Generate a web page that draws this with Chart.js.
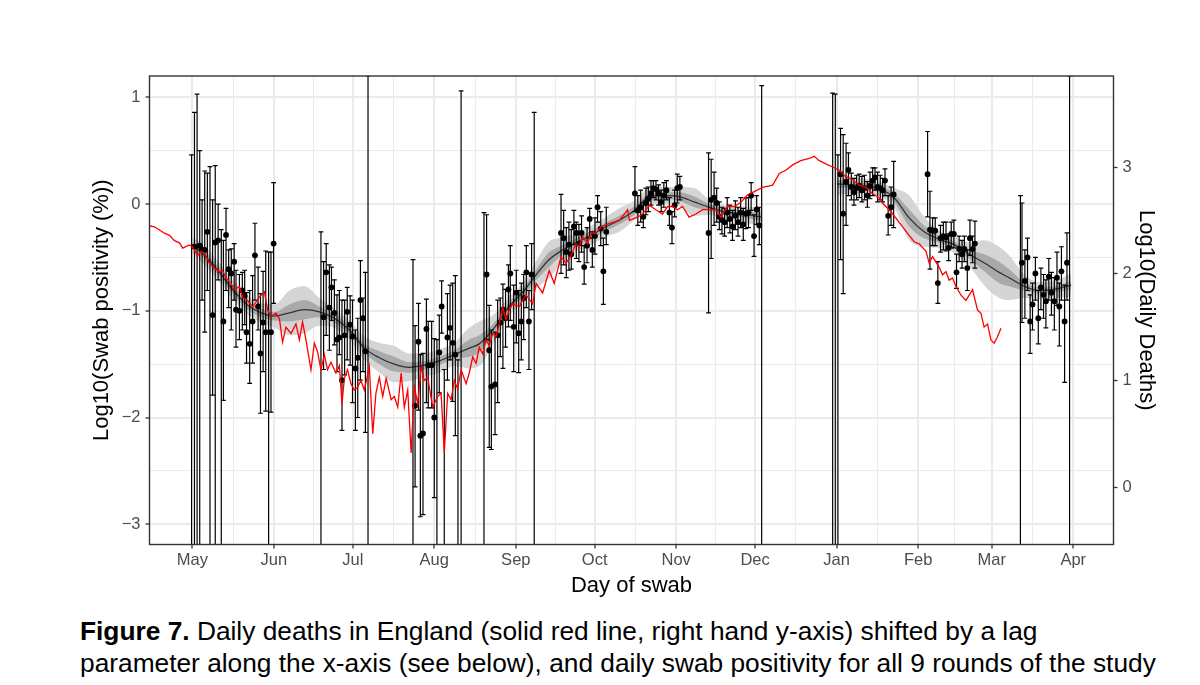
<!DOCTYPE html>
<html><head><meta charset="utf-8">
<script src="https://cdn.jsdelivr.net/npm/chart.js@4.4.0/dist/chart.umd.min.js"></script>
<style>
html,body{margin:0;padding:0;background:#fff;}
#wrap{position:relative;width:1200px;height:685px;overflow:hidden;background:#fff;}
#c{position:absolute;left:0;top:0;}
#cap{position:absolute;left:80px;top:615px;font-family:"Liberation Sans",Arial,sans-serif;font-size:26.3px;line-height:32px;color:#000;white-space:nowrap;}
</style></head><body>
<div id="wrap"><canvas id="c" width="1200" height="600"></canvas>
<div id="cap"><b>Figure 7.</b> Daily deaths in England (solid red line, right hand y-axis) shifted by a lag<br>parameter along the x-axis (see below), and daily swab positivity for all 9 rounds of the study</div></div>
<script>
// ---------- axis labels ----------
const monthDays   = [0, 31, 61, 92, 123, 153, 184, 214, 245, 276, 304, 335]; // days since 1 May 2020
const monthLabels = ['May','Jun','Jul','Aug','Sep','Oct','Nov','Dec','Jan','Feb','Mar','Apr'];
const leftTicks   = [-3, -2, -1, 0, 1];
const rightTicks  = [0, 1, 2, 3];

// ---------- daily swab positivity (log10 %), with interval ----------
const swabDay = [
 -0.3,0.8,1.8,2.8,3.7,4.7,5.7,6.7,7.7,8.7,9.8,11.0,11.8,12.8,13.8,14.8,15.9,16.6,17.9,19.0,19.9,20.6,21.8,22.9,23.8,25.0,25.9,26.9,27.9,29.0,29.9,30.9,
 48.9,49.9,50.9,52.1,52.9,54.0,55.0,55.9,56.9,57.9,58.9,60.0,60.9,62.0,62.9,63.9,64.9,65.8,66.8,
 83.9,84.7,86.0,86.7,87.7,89.0,89.7,91.0,92.0,93.0,93.9,94.8,95.8,97.0,98.0,99.0,100.0,101.0,102.2,
 110.9,111.9,112.9,113.7,115.1,116.1,117.1,118.1,119.1,120.2,120.9,122.2,123.2,124.1,125.1,126.0,127.0,128.0,129.0,130.0,
 140.2,141.2,142.2,143.2,144.1,145.1,146.0,147.0,148.0,149.0,150.1,151.1,152.1,153.1,154.1,155.3,156.3,157.4,
 168.3,169.4,170.5,171.5,172.5,173.4,174.4,175.3,176.3,177.3,178.3,179.3,180.3,181.4,182.4,183.4,184.4,185.4,
 196.3,197.3,198.4,199.4,200.4,201.4,202.4,203.4,204.4,205.4,206.5,207.5,208.5,209.5,210.5,211.5,212.5,213.6,214.6,215.6,216.5,
 243.5,244.5,245.5,246.5,247.5,248.6,249.5,250.6,251.6,252.6,253.6,254.6,255.6,256.7,257.7,258.7,259.6,260.6,261.6,262.5,263.4,264.6,265.7,266.7,
 279.6,280.5,281.5,282.5,283.5,284.5,285.6,286.6,287.6,288.6,289.6,290.6,291.6,292.7,293.6,294.7,295.7,296.7,297.6,
 314.9,315.5,316.6,317.6,318.6,319.5,320.6,321.7,322.7,323.7,324.6,325.7,326.7,327.8,328.8,329.7,330.5,331.7,332.6,333.6
];
const swabLogPos = [
 null,-0.40,null,-0.39,-0.43,-0.43,-0.26,null,-1.04,-0.36,-0.34,null,-1.10,-0.29,-0.61,-0.65,-0.54,-0.99,-1.00,-0.81,-0.86,-1.20,-1.31,-1.10,-0.48,-0.96,-1.40,-1.11,-1.20,null,-1.20,-0.37,
 null,-1.06,-0.64,-0.97,-0.78,-1.02,-1.27,-1.25,-1.65,-1.23,-1.01,-1.13,-1.24,-1.54,-1.44,-0.90,-1.07,-1.38,null,
 null,-1.89,-1.29,-2.17,-2.15,-1.17,-1.51,-1.51,-2.00,null,-1.39,-0.96,null,-1.25,-1.16,-1.30,-1.41,null,null,
 null,-0.66,-1.37,-1.71,-1.69,-1.23,-1.11,-0.99,-1.07,-0.80,-0.65,-1.15,-0.83,-1.21,-1.10,-0.88,-0.64,-1.10,-0.66,null,
 -0.27,-0.32,-0.45,-0.38,-0.47,-0.21,-0.27,-0.37,-0.27,-0.59,-0.39,-0.14,-0.43,-0.30,-0.03,-0.23,-0.63,-0.26,
 0.10,-0.06,-0.03,-0.12,0.01,0.05,0.10,0.15,0.14,0.10,0.02,0.08,0.13,-0.08,-0.22,-0.01,0.15,0.16,
 -0.27,0.04,0.06,0.01,-0.12,-0.15,-0.17,-0.08,-0.14,-0.21,-0.11,-0.17,-0.08,-0.19,-0.09,-0.08,0.08,-0.30,-0.05,-0.20,null,
 null,null,null,0.28,-0.09,0.21,0.32,0.16,0.11,0.15,0.17,0.13,0.15,0.08,0.17,0.22,0.25,0.16,0.15,0.13,0.22,-0.11,-0.03,0.09,
 0.28,-0.24,-0.25,-0.25,-0.74,-0.32,-0.30,-0.31,-0.41,-0.28,-0.28,-0.64,-0.42,-0.47,-0.42,-0.60,-0.32,-0.42,-0.37,
 null,-0.55,-0.72,-0.50,-1.10,-0.94,-0.65,-1.07,-0.78,-0.85,-0.91,-0.68,-0.83,-0.91,-0.69,-0.96,-0.63,-1.10,-0.55,null
];
const swabUpper = [
 0.46,0.86,1.03,0.50,0.04,0.31,0.29,0.35,0.04,0.36,0.00,-0.24,-0.34,-0.04,-0.43,-0.42,-0.37,-0.62,-0.66,-0.64,-0.62,-0.83,-0.81,-0.67,-0.18,-0.59,-0.84,-0.63,-0.44,-0.45,-0.45,0.20,
 -0.26,-0.54,-0.37,-0.57,-0.59,-0.71,-0.85,-0.81,-0.90,-0.90,-0.78,-0.86,-0.90,-1.18,-1.07,-0.53,-0.88,-0.64,1.20,
 -0.52,-1.14,-0.93,-1.41,-1.40,-0.89,-1.10,-1.10,-1.26,-1.27,-1.04,-0.72,-1.55,-0.84,-0.76,-0.74,-0.67,-1.46,1.06,
 -0.08,-0.10,-0.95,-1.18,-1.20,-0.90,-0.88,-0.75,-0.80,-0.57,-0.39,-0.76,-0.62,-0.81,-0.74,-0.66,-0.39,-0.81,-0.37,0.86,
 0.09,-0.06,-0.22,-0.17,-0.24,-0.06,-0.17,-0.19,-0.11,-0.39,-0.22,-0.04,-0.26,-0.13,0.08,-0.07,-0.32,-0.03,
 0.35,0.08,0.13,0.01,0.15,0.16,0.22,0.22,0.22,0.18,0.13,0.20,0.22,0.06,-0.07,0.13,0.28,0.26,
 0.48,0.42,0.30,0.15,0.02,-0.03,-0.04,0.06,-0.01,-0.06,0.03,-0.03,0.06,-0.04,0.06,0.06,0.20,-0.10,0.08,-0.03,1.11,
 1.04,1.03,0.46,0.71,0.65,0.57,0.48,0.29,0.24,0.27,0.28,0.26,0.27,0.21,0.30,0.34,0.34,0.30,0.27,0.24,0.33,0.08,0.16,0.40,
 0.68,0.12,-0.13,-0.13,-0.54,-0.20,-0.17,-0.17,-0.28,-0.17,-0.15,-0.47,-0.30,-0.34,-0.30,-0.43,-0.15,-0.30,-0.16,
 0.08,0.01,-0.43,-0.32,-0.85,-0.74,-0.50,-0.81,-0.60,-0.66,-0.71,-0.51,-0.64,-0.69,-0.45,-0.74,-0.40,-0.76,-0.27,1.20
];
const swabLower = [
 -3.19,-3.19,-3.19,-3.19,-0.90,-1.20,-0.81,-3.19,-1.79,-3.19,-0.71,-3.19,-1.84,-0.81,-0.97,-1.18,-0.90,-1.34,-1.27,-1.18,-1.13,-1.49,-1.68,-1.49,-0.90,-1.18,-1.96,-1.57,-1.94,-3.19,-1.95,-0.93,
 -3.19,-1.55,-1.23,-1.37,-1.09,-1.32,-1.57,-1.41,-2.12,-1.60,-1.46,-1.51,-1.86,-2.12,-2.00,-1.65,-1.57,-2.14,-3.19,
 -3.19,-2.65,-1.93,-2.93,-2.91,-1.86,-1.91,-1.91,-2.75,-3.19,-1.77,-1.21,-3.19,-1.65,-1.46,-1.85,-2.17,-3.19,-3.19,
 -3.19,-1.27,-2.28,-2.30,-2.16,-1.86,-1.43,-1.54,-1.34,-1.15,-1.09,-1.57,-1.30,-1.58,-1.46,-1.27,-0.97,-1.55,-0.99,-3.19,
 -0.65,-0.57,-0.69,-0.62,-0.61,-0.38,-0.51,-0.54,-0.45,-0.75,-0.55,-0.32,-0.59,-0.47,-0.17,-0.39,-0.94,-0.38,
 -0.07,-0.20,-0.17,-0.22,-0.10,-0.07,-0.01,0.06,0.04,-0.01,-0.07,-0.03,0.04,-0.20,-0.37,-0.12,0.01,0.04,
 -1.02,-0.51,-0.20,-0.17,-0.24,-0.28,-0.30,-0.22,-0.27,-0.34,-0.24,-0.30,-0.22,-0.34,-0.23,-0.22,-0.06,-0.49,-0.19,-0.38,-3.19,
 -3.19,-3.19,-3.19,-0.52,-0.84,-0.20,0.08,0.04,-0.01,0.04,0.06,0.02,0.04,-0.03,0.05,0.08,0.13,0.02,0.04,0.02,0.08,-0.29,-0.20,-0.22,
 -0.12,-0.61,-0.39,-0.39,-0.93,-0.45,-0.43,-0.44,-0.53,-0.41,-0.41,-0.79,-0.54,-0.60,-0.54,-0.81,-0.48,-0.55,-0.60,
 -3.19,-1.11,-1.07,-0.81,-1.40,-1.18,-0.90,-1.31,-0.99,-1.07,-1.16,-0.90,-1.04,-1.18,-0.95,-1.33,-0.90,-1.67,-0.90,-3.19
];

// ---------- fitted curve with two bands (null = gap between fits) ----------
const fitDay = [0,4.6,10.3,16.0,21.7,26.2,31.2,36.9,42.6,48.3,54.0,59.7,65.4,71.1,76.8,82.5,88.2,93.9,99.6,105.3,
 109.1,114.8,120.5,126.2,130.8,135.7,139.5,145.2,151.0,156.7,162.4,168.1,173.8,179.5,185.2,190.9,196.6,202.3,208.0,216.3,
 230,
 245.2,249.8,255.5,261.2,266.9,272.6,278.3,284.0,289.7,295.4,301.1,306.8,310.6,316.3,322.1,327.8,334.2];
const fitMid = [-0.38,-0.48,-0.64,-0.82,-0.96,-1.02,-1.05,-1.02,-0.99,-1.01,-1.07,-1.18,-1.35,-1.44,-1.50,-1.53,-1.51,-1.47,-1.41,-1.35,
 -1.31,-1.16,-0.96,-0.81,-0.66,-0.52,-0.45,-0.37,-0.30,-0.22,-0.15,-0.06,0.07,0.08,0.07,0.02,-0.03,-0.07,-0.09,-0.12,
 null,
 0.19,0.18,0.17,0.14,0.06,-0.13,-0.26,-0.33,-0.38,-0.47,-0.55,-0.64,-0.69,-0.77,-0.81,-0.80,-0.76];
const fitLo95 = [-0.46,-0.57,-0.73,-0.91,-1.05,-1.11,-1.16,-1.23,-1.21,-1.14,-1.16,-1.27,-1.46,-1.58,-1.67,-1.66,-1.62,-1.58,-1.52,-1.54,
 -1.52,-1.29,-1.05,-0.90,-0.79,-0.69,-0.58,-0.46,-0.39,-0.31,-0.26,-0.15,-0.01,0.00,-0.02,-0.11,-0.10,-0.14,-0.16,-0.21,
 null,
 0.08,0.10,0.10,0.07,-0.03,-0.34,-0.40,-0.41,-0.46,-0.58,-0.76,-0.88,-0.90,-0.88,-0.89,-0.88,-0.87];
const fitHi95 = [-0.31,-0.39,-0.55,-0.73,-0.87,-0.93,-0.94,-0.81,-0.77,-0.88,-0.98,-1.09,-1.24,-1.30,-1.33,-1.40,-1.40,-1.36,-1.30,-1.16,
 -1.10,-1.03,-0.87,-0.72,-0.53,-0.35,-0.32,-0.28,-0.21,-0.13,-0.04,0.03,0.15,0.16,0.16,0.15,0.04,-0.01,-0.02,-0.03,
 null,
 0.30,0.26,0.24,0.21,0.15,0.08,-0.12,-0.25,-0.30,-0.36,-0.34,-0.40,-0.48,-0.66,-0.73,-0.72,-0.65];
const fitLo50 = [-0.41,-0.52,-0.68,-0.86,-1.00,-1.06,-1.09,-1.10,-1.08,-1.06,-1.11,-1.22,-1.39,-1.50,-1.57,-1.58,-1.55,-1.51,-1.45,-1.43,
 -1.39,-1.21,-1.00,-0.85,-0.71,-0.59,-0.50,-0.41,-0.34,-0.26,-0.19,-0.10,0.04,0.05,0.03,-0.03,-0.06,-0.10,-0.12,-0.16,
 null,
 0.15,0.15,0.14,0.11,0.02,-0.21,-0.32,-0.36,-0.41,-0.51,-0.63,-0.74,-0.77,-0.81,-0.84,-0.83,-0.80];
const fitHi50 = [-0.35,-0.44,-0.60,-0.78,-0.92,-0.98,-1.01,-0.94,-0.90,-0.96,-1.03,-1.14,-1.31,-1.38,-1.43,-1.48,-1.47,-1.43,-1.37,-1.27,
 -1.23,-1.11,-0.92,-0.77,-0.61,-0.45,-0.40,-0.33,-0.26,-0.18,-0.11,-0.02,0.10,0.11,0.11,0.07,0.00,-0.04,-0.06,-0.08,
 null,
 0.23,0.21,0.20,0.17,0.10,-0.05,-0.20,-0.30,-0.35,-0.43,-0.47,-0.54,-0.61,-0.73,-0.78,-0.77,-0.72];

// ---------- daily deaths (log10), lag-shifted, right axis ----------
const deathDay = [
 -16.6,-14.4,-12.5,-10.6,-8.7,-6.8,-4.9,-3.7,-1.1,0.1,
 2.0,3.3,4.6,6.5,8.4,10.3,11.5,12.8,14.7,16.0,
 17.9,19.1,21.0,22.9,25.5,27.4,28.6,29.9,31.8,33.1,
 34.3,35.6,37.5,39.4,40.7,41.9,43.2,45.1,46.4,47.6,
 48.9,50.2,51.4,52.7,54.6,55.9,56.9,57.8,59.0,60.3,
 61.6,62.9,64.1,65.4,67.3,68.6,69.8,71.1,72.4,73.7,
 75.6,76.8,78.1,79.4,80.6,81.9,83.2,84.4,85.7,87.0,
 88.2,89.5,91.4,93.3,94.6,95.8,97.1,98.4,99.6,100.9,
 102.2,104.1,105.3,106.6,107.9,109.1,110.4,111.7,112.9,114.2,
 115.5,116.7,118.0,119.3,120.5,121.8,124.3,125.6,126.9,129.4,
 130.7,133.2,135.7,137.6,140.2,142.1,144.0,145.9,147.1,148.4,
 150.3,151.6,153.5,155.4,157.3,159.8,162.4,165.5,166.2,169.3,
 171.2,173.8,176.3,178.8,180.7,182.6,184.5,186.4,188.9,191.5,
 194.0,196.6,199.1,201.0,203.5,206.1,208.6,211.2,213.7,216.8,
 220.7,223.2,225.7,228.3,231.4,234.6,236.5,238.4,240.9,243.5,
 246.0,248.5,251.1,253.6,256.2,258.7,261.2,262.5,265.0,267.6,
 270.1,272.6,274.5,276.4,279.0,280.2,281.5,284.0,285.3,286.6,
 287.8,289.1,290.4,292.3,294.2,296.7,298.6,299.9,301.1,302.4,
 303.7,304.9,306.2,307.5
];
const deathLog = [
 2.45,2.44,2.41,2.38,2.36,2.31,2.29,2.24,2.27,2.25,
 2.17,2.21,2.19,2.10,2.05,2.02,2.03,1.96,1.91,1.85,
 1.88,1.78,1.75,1.69,1.78,1.83,1.66,1.60,1.63,1.58,
 1.36,1.50,1.44,1.53,1.38,1.55,1.38,1.10,1.35,1.27,
 1.10,1.24,1.10,1.17,1.07,1.14,0.78,1.02,1.10,0.97,
 0.91,0.94,1.00,0.91,1.13,0.50,0.88,1.03,0.85,1.02,
 0.82,0.85,0.75,1.07,0.75,0.91,0.32,0.94,0.78,1.13,
 1.00,1.03,0.75,0.85,0.88,0.32,0.88,0.82,1.00,0.92,
 1.10,0.97,1.07,1.22,1.16,1.31,1.25,1.38,1.33,1.44,
 1.41,1.53,1.69,1.57,1.66,1.72,1.69,1.75,1.80,1.72,
 1.91,1.82,2.03,1.91,2.16,2.10,2.17,2.28,2.25,2.35,
 2.28,2.38,2.38,2.44,2.46,2.48,2.50,2.60,2.50,2.53,
 2.56,2.64,2.60,2.56,2.63,2.63,2.60,2.63,2.53,2.56,
 2.60,2.60,2.60,2.53,2.63,2.63,2.67,2.74,2.77,2.81,
 2.83,2.94,2.97,3.02,3.06,3.08,3.10,3.06,3.03,3.00,
 2.97,2.91,2.88,2.83,2.81,2.75,2.71,2.66,2.60,2.52,
 2.44,2.36,2.30,2.28,2.21,2.10,2.16,2.06,1.99,2.02,
 1.94,1.96,1.88,1.80,1.75,1.85,1.66,1.63,1.50,1.53,
 1.38,1.35,1.41,1.49
];

// ---------- layout / style ----------
const FONT = '"Liberation Sans", Arial, sans-serif';
const X_MIN = -16.3, X_MAX = 350.3;
const Y_MIN = -3.19, Y_MAX = 1.20;
const Y2_OFFSET = 2.653;
const GRID = '#ebebeb', AXIS = '#333333', TICKTXT = '#4d4d4d';

Chart.defaults.font.family = FONT;

const xMinor = monthDays.slice(1).map((d, i) => (d + monthDays[i]) / 2);
const yMinor = leftTicks.slice(1).map((v, i) => (v + leftTicks[i]) / 2);
const xAll = monthDays.concat(xMinor).sort((a, b) => a - b);
const yAll = leftTicks.concat(yMinor).sort((a, b) => a - b);
const isMajorX = v => monthDays.includes(v);
const isMajorY = v => leftTicks.includes(v);
const fmt = v => v < 0 ? '\u2212' + Math.abs(v) : String(v);

const pts = (xs, ys) => xs.map((x, i) => ({ x: x, y: ys[i] }));
const errData = [];
swabDay.forEach((d, i) => {
  errData.push({ x: d, y: swabLower[i] }, { x: d, y: swabUpper[i] }, { x: d, y: null });
});

const framePlugin = {
  id: 'frame',
  afterDatasetsDraw(chart) {
    const { ctx, chartArea: a } = chart;
    ctx.save();
    ctx.strokeStyle = AXIS;
    ctx.lineWidth = 1.4;
    ctx.strokeRect(a.left, a.top, a.right - a.left, a.bottom - a.top);
    ctx.restore();
  }
};

const band = (arr, fillTarget, color, order) => ({
  data: pts(fitDay, arr), fill: fillTarget, backgroundColor: color,
  borderColor: 'rgba(0,0,0,0)', borderWidth: 0, pointRadius: 0,
  cubicInterpolationMode: 'monotone', spanGaps: false, order: order
});

new Chart(document.getElementById('c'), {
  type: 'line',
  data: {
    datasets: [
      { data: pts(deathDay, deathLog), yAxisID: 'y2', borderColor: '#ff0000', borderWidth: 1.3,
        pointRadius: 0, fill: false, tension: 0, order: 0 },
      { data: pts(swabDay, swabLogPos), showLine: false, pointRadius: 2.9, pointBackgroundColor: '#000',
        pointBorderColor: '#000', pointBorderWidth: 0, order: 1 },
      { data: errData, borderColor: '#000', borderWidth: 1.2, pointStyle: 'line', pointRadius: 2.4,
        pointBorderColor: '#000', pointBorderWidth: 1.2, spanGaps: false, fill: false, order: 2 },
      { data: pts(fitDay, fitMid), borderColor: '#333', borderWidth: 1.3, pointRadius: 0, fill: false,
        cubicInterpolationMode: 'monotone', spanGaps: false, order: 3 },
      band(fitHi50, '+1', '#a9a9a9', 4),
      band(fitLo50, false, 'rgba(0,0,0,0)', 4),
      band(fitHi95, '+1', '#d5d5d5', 5),
      band(fitLo95, false, 'rgba(0,0,0,0)', 5)
    ]
  },
  options: {
    responsive: false, animation: false, events: [],
    layout: { padding: { top: 76, left: 0, right: 0, bottom: 0 } },
    plugins: { legend: { display: false }, tooltip: { enabled: false } },
    scales: {
      x: {
        type: 'linear', min: X_MIN, max: X_MAX,
        afterBuildTicks: s => { s.ticks = xAll.map(v => ({ value: v })); },
        afterFit: s => { s.height = 55.5; },
        ticks: { autoSkip: false, maxRotation: 0, padding: 2, color: TICKTXT, font: { size: 16.5 },
          callback: v => { const i = monthDays.indexOf(v); return i >= 0 ? monthLabels[i] : ''; } },
        grid: { color: GRID, lineWidth: c => isMajorX(c.tick.value) ? 2 : 1, tickLength: 4,
          tickColor: c => isMajorX(c.tick.value) ? AXIS : 'rgba(0,0,0,0)', tickWidth: 1.3 },
        border: { display: false },
        title: { display: true, text: 'Day of swab', color: '#000', font: { size: 22 }, padding: { top: 0, bottom: 1 } }
      },
      y: {
        position: 'left', min: Y_MIN, max: Y_MAX,
        afterBuildTicks: s => { s.ticks = yAll.map(v => ({ value: v })); },
        afterFit: s => { s.width = 149.5; },
        ticks: { autoSkip: false, padding: 5, color: TICKTXT, font: { size: 16.5 },
          callback: v => isMajorY(v) ? fmt(v) : '' },
        grid: { color: GRID, lineWidth: c => isMajorY(c.tick.value) ? 2 : 1, tickLength: 4,
          tickColor: c => isMajorY(c.tick.value) ? AXIS : 'rgba(0,0,0,0)', tickWidth: 1.3 },
        border: { display: false },
        title: { display: true, text: 'Log10(Swab positivity (%))', color: '#000', font: { size: 22 }, padding: { top: 89, bottom: 0 } }
      },
      y2: {
        position: 'right', min: Y_MIN + Y2_OFFSET, max: Y_MAX + Y2_OFFSET,
        afterBuildTicks: s => { s.ticks = rightTicks.map(v => ({ value: v })); },
        afterFit: s => { s.width = 86.5; },
        ticks: { autoSkip: false, padding: 5, color: TICKTXT, font: { size: 16.5 }, callback: v => String(v) },
        grid: { drawOnChartArea: false, drawTicks: true, tickLength: 4, tickColor: AXIS, tickWidth: 1.3 },
        border: { display: false },
        title: { display: true, text: 'Log10(Daily Deaths)', color: '#000', font: { size: 22 }, padding: { top: 41, bottom: 0 } }
      }
    }
  },
  plugins: [framePlugin]
});
</script>
</body></html>
